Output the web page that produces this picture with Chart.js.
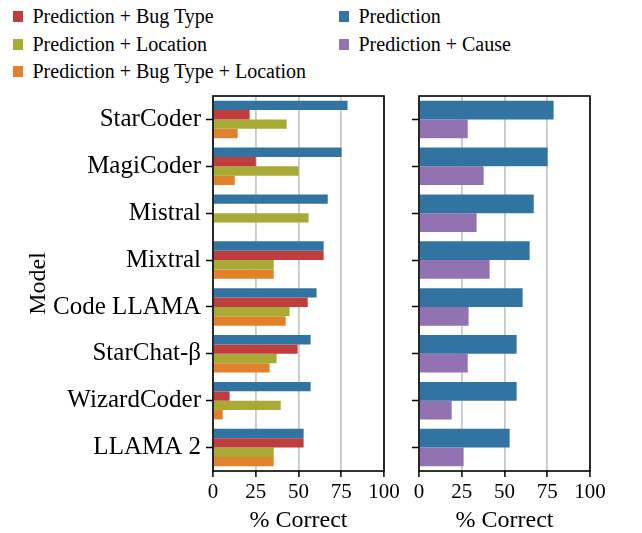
<!DOCTYPE html>
<html>
<head>
<meta charset="utf-8">
<script src="https://cdn.jsdelivr.net/npm/chart.js@4.4.1/dist/chart.umd.min.js"></script>
<style>
  body { margin: 0; background: #fff; width: 642px; height: 533px; overflow: hidden; position: relative; }
  canvas { position: absolute; }
  .legend-row {
    position: absolute;
    height: 27.5px;
    font-family: 'Liberation Serif', 'Times New Roman', serif;
    font-size: 20px;
    line-height: 27.5px;
    color: #000;
    white-space: nowrap;
  }
  .legend-row .swatch { position: absolute; left: 0; top: 8px; width: 10px; height: 11px; }
  .legend-row .label { position: absolute; left: 19.5px; top: 0; }
</style>
</head>
<body>
<div id="legend"></div>
<canvas id="leftChart" width="410" height="447" style="left:0;top:86px;"></canvas>
<canvas id="rightChart" width="222" height="447" style="left:398px;top:86px;"></canvas>
<script>
// Models (y categories)
const models = ['StarCoder', 'MagiCoder', 'Mistral', 'Mixtral', 'Code LLAMA', 'StarChat-\u03B2', 'WizardCoder', 'LLAMA 2'];

// % correct per setting
const prediction = [78.7, 75.2, 67.1, 64.7, 60.6, 57.1, 57.1, 53.0];
const predBugType = [21.4, 25.0, 0, 64.7, 55.4, 49.5, 9.7, 53.0];
const predLocation = [43.1, 50.1, 55.9, 35.5, 44.8, 37.2, 39.6, 35.5];
const predBugTypeLocation = [14.4, 12.7, 0, 35.5, 42.5, 33.1, 5.7, 35.5];
const predCause = [28.5, 37.8, 33.7, 41.3, 29.0, 28.5, 19.1, 26.1];

// x axis ticks
const xTicks = [0, 25, 50, 75, 100];

const COLORS = {
  prediction: '#3274a1',
  bugType: '#c03d3e',
  location: '#a9aa35',
  bugTypeLocation: '#e1812c',
  cause: '#9372b2'
};

const SERIF = "'Liberation Serif', 'Times New Roman', serif";

// Draws a black frame around the plot area
const framePlugin = {
  id: 'frame',
  afterDatasetsDraw(chart) {
    const { ctx, chartArea } = chart;
    ctx.save();
    ctx.strokeStyle = '#000';
    ctx.lineWidth = 1.6;
    ctx.strokeRect(chartArea.left, chartArea.top, chartArea.right - chartArea.left, chartArea.bottom - chartArea.top);
    ctx.restore();
  }
};

function makeDataset(label, data, color) {
  return {
    label: label,
    data: data,
    backgroundColor: color,
    borderWidth: 0,
    categoryPercentage: 0.8,
    barPercentage: 1.0
  };
}

/**
 * Build options shared by both panels
 */
function buildOptions(yAxisWidth, showLabels, padRight) {
  return {
    indexAxis: 'y',
    responsive: false,
    animation: false,
    devicePixelRatio: 1,
    layout: { padding: { top: 10, right: padRight, bottom: 0, left: 0 } },
    plugins: {
      legend: { display: false },
      tooltip: { enabled: false }
    },
    scales: {
      x: {
        min: 0,
        max: 100,
        afterBuildTicks: (scale) => { scale.ticks = xTicks.map(v => ({ value: v })); },
        afterFit: (scale) => {
          scale.height = 62;
          scale.paddingLeft = 0;
          scale.paddingRight = 0;
        },
        border: { display: false },
        grid: {
          color: '#c8c8c8',
          lineWidth: 1.8,
          tickColor: '#000',
          tickLength: 6,
          tickWidth: 1.5
        },
        ticks: {
          color: '#000',
          padding: 3,
          maxRotation: 0,
          font: { family: SERIF, size: 21 }
        },
        title: {
          display: true,
          text: '% Correct',
          color: '#000',
          padding: { top: 0, bottom: 0 },
          font: { family: SERIF, size: 24, lineHeight: 1.0 }
        }
      },
      y: {
        afterFit: (scale) => {
          scale.width = yAxisWidth;
          scale.paddingTop = 0;
          scale.paddingBottom = 0;
        },
        border: { display: false },
        grid: {
          drawOnChartArea: false,
          offset: false,
          tickColor: '#000',
          tickLength: 7,
          tickWidth: 1.5
        },
        ticks: {
          display: showLabels,
          color: '#000',
          padding: 5,
          font: { family: SERIF, size: 25 }
        },
        title: {
          display: showLabels,
          text: 'Model',
          color: '#000',
          padding: { top: 24, bottom: 0 },
          font: { family: SERIF, size: 24 }
        }
      }
    }
  };
}

function initLeftChart() {
  const ctx = document.getElementById('leftChart');
  new Chart(ctx, {
    type: 'bar',
    data: {
      labels: models,
      datasets: [
        makeDataset('Prediction', prediction, COLORS.prediction),
        makeDataset('Prediction + Bug Type', predBugType, COLORS.bugType),
        makeDataset('Prediction + Location', predLocation, COLORS.location),
        makeDataset('Prediction + Bug Type + Location', predBugTypeLocation, COLORS.bugTypeLocation)
      ]
    },
    options: buildOptions(213, true, 26),
    plugins: [framePlugin]
  });
}

function initRightChart() {
  const ctx = document.getElementById('rightChart');
  new Chart(ctx, {
    type: 'bar',
    data: {
      labels: models,
      datasets: [
        makeDataset('Prediction', prediction, COLORS.prediction),
        makeDataset('Prediction + Cause', predCause, COLORS.cause)
      ]
    },
    options: buildOptions(21, false, 30),
    plugins: [framePlugin]
  });
}

// Shared legend above both panels
function buildLegend() {
  const items = [
    { text: 'Prediction + Bug Type', color: COLORS.bugType, x: 13, y: 3 },
    { text: 'Prediction + Location', color: COLORS.location, x: 13, y: 30.5 },
    { text: 'Prediction + Bug Type + Location', color: COLORS.bugTypeLocation, x: 13, y: 58 },
    { text: 'Prediction', color: COLORS.prediction, x: 339, y: 3 },
    { text: 'Prediction + Cause', color: COLORS.cause, x: 339, y: 30.5 }
  ];
  const legendEl = document.getElementById('legend');
  legendEl.innerHTML = items.map(item => `
    <div class="legend-row" style="left:${item.x}px;top:${item.y}px;">
      <span class="swatch" style="background:${item.color}"></span>
      <span class="label">${item.text}</span>
    </div>
  `).join('');
}

buildLegend();
initLeftChart();
initRightChart();
</script>
</body>
</html>
